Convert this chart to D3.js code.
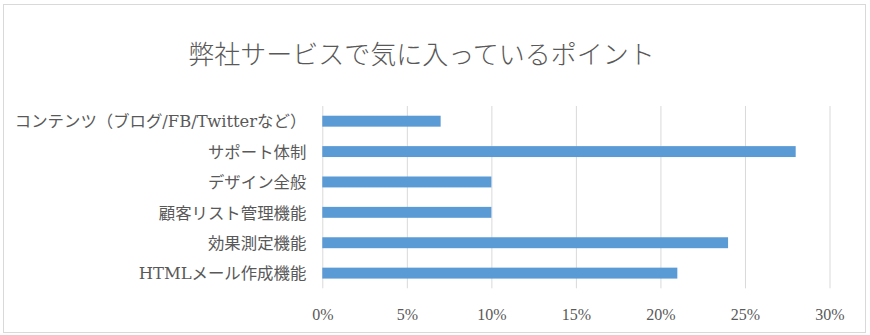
<!DOCTYPE html>
<html>
<head>
<meta charset="utf-8">
<script src="https://cdn.jsdelivr.net/npm/d3@7"></script>
<style>
  html, body { margin: 0; padding: 0; background: #fff; }
  svg { display: block; }
  text { font-family: "Liberation Serif", "Noto Sans CJK JP", serif; fill: #595959; }
  .cat text { font-family: "DejaVu Serif", "Noto Sans CJK JP", serif; }
</style>
</head>
<body>
<svg id="chart" width="870" height="335"></svg>
<script>
// Chart content
const title = "弊社サービスで気に入っているポイント";
const categories = [
  "コンテンツ（ブログ/FB/Twitterなど）",
  "サポート体制",
  "デザイン全般",
  "顧客リスト管理機能",
  "効果測定機能",
  "HTMLメール作成機能"
];
const values = [0.07, 0.28, 0.10, 0.10, 0.24, 0.21];
const tickValues = [0, 0.05, 0.10, 0.15, 0.20, 0.25, 0.30];

const W = 870, H = 335;
const margin = { top: 106, right: 40.5, bottom: 46.7, left: 322.3 };

const svg = d3.select("#chart");

// chart area frame
svg.append("rect")
  .attr("x", 3.5).attr("y", 4.5)
  .attr("width", 862).attr("height", 328)
  .attr("fill", "#fff")
  .attr("stroke", "#d9d9d9")
  .attr("stroke-width", 1);

svg.append("text")
  .attr("x", 421.5)
  .attr("y", 64)
  .attr("text-anchor", "middle")
  .style("font-size", "26px")
  .style("font-weight", "300")
  .text(title);

const x = d3.scaleLinear()
  .domain([0, 0.30])
  .range([margin.left, W - margin.right]);

const y = d3.scaleBand()
  .domain(categories)
  .range([margin.top, H - margin.bottom])
  .paddingInner(0.64)
  .paddingOuter(0.32);

// vertical gridlines + percentage labels
const xAxis = svg.append("g")
  .attr("transform", `translate(0,${H - margin.bottom})`)
  .call(d3.axisBottom(x)
    .tickValues(tickValues)
    .tickFormat(d3.format(".0%"))
    .tickSizeInner(-(H - margin.top - margin.bottom))
    .tickSizeOuter(0));
xAxis.select(".domain").remove();
xAxis.selectAll(".tick line")
  .attr("stroke", "#d9d9d9")
  .attr("stroke-width", 1);
xAxis.selectAll(".tick text")
  .attr("y", 31.5)
  .attr("dy", null)
  .style("font-size", "16px")
  .attr("fill", "#595959");

// category labels
const yAxis = svg.append("g")
  .attr("class", "cat")
  .attr("transform", `translate(${margin.left},0)`)
  .call(d3.axisLeft(y).tickSize(0).tickPadding(16));
yAxis.select(".domain").remove();
yAxis.selectAll(".tick text")
  .attr("dy", "0.38em")
  .style("font-size", "16.4px")
  .attr("fill", "#595959");

// bars
svg.append("g")
  .selectAll("rect")
  .data(categories)
  .join("rect")
  .attr("x", x(0))
  .attr("y", d => y(d))
  .attr("width", (d, i) => x(values[i]) - x(0))
  .attr("height", y.bandwidth())
  .attr("fill", "#5b9bd5");
</script>
</body>
</html>
